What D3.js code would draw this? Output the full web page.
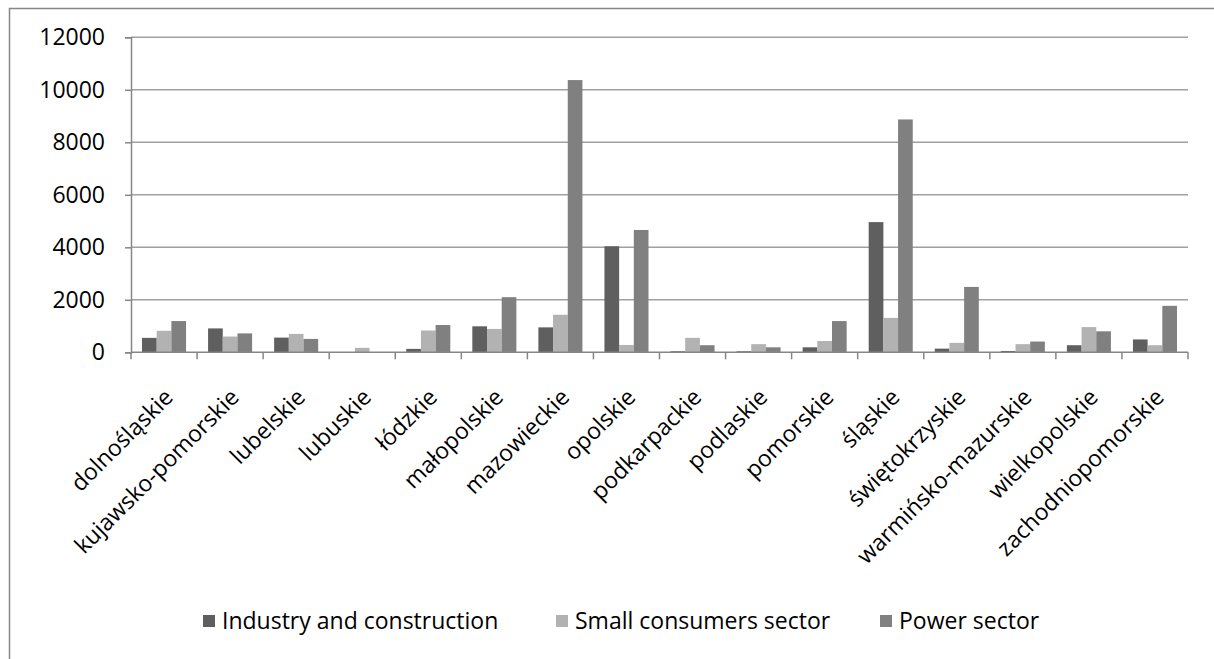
<!DOCTYPE html>
<html>
<head>
<meta charset="utf-8">
<script src="https://cdn.jsdelivr.net/npm/d3@7"></script>
<style>
  body { margin: 0; background: #fff; }
  svg { display: block; font-family: "Open Sans", "Noto Sans", sans-serif; }
</style>
</head>
<body>
<svg id="chart" width="1214" height="659"></svg>
<script>
// regions (voivodeships)
const regions = ['dolnośląskie', 'kujawsko-pomorskie', 'lubelskie', 'lubuskie', 'łódzkie',
  'małopolskie', 'mazowieckie', 'opolskie', 'podkarpackie', 'podlaskie', 'pomorskie',
  'śląskie', 'świętokrzyskie', 'warmińsko-mazurskie', 'wielkopolskie', 'zachodniopomorskie'];

const seriesNames = ['Industry and construction', 'Small consumers sector', 'Power sector'];

const industry = [550, 910, 560, 0, 130, 990, 950, 4040, 40, 40, 190, 4960, 140, 50, 270, 490];
const smallConsumers = [820, 600, 700, 170, 830, 890, 1430, 280, 550, 310, 430, 1310, 360, 310, 960, 270];
const power = [1190, 720, 510, 0, 1040, 2100, 10370, 4660, 270, 190, 1190, 8870, 2490, 410, 800, 1770];

const yTicks = [0, 2000, 4000, 6000, 8000, 10000, 12000];
const colors = ['#5f5f5f', '#b2b2b2', '#808080'];
const fontSize = 23;

const svg = d3.select('#chart');

// outer chart frame (cut off at right/bottom like the screenshot)
svg.append('rect')
  .attr('x', 9.5).attr('y', 8.5)
  .attr('width', 1300).attr('height', 800)
  .attr('fill', 'none')
  .attr('stroke', '#868686')
  .attr('stroke-width', 1.5);

const plot = { left: 131, right: 1188, top: 37.3, bottom: 352.3 };

const x = d3.scaleBand()
  .domain(regions)
  .range([plot.left, plot.right])
  .paddingInner(0)
  .paddingOuter(0);

// gap width 150% -> bars take 3/4.5 of each category
const inner = d3.scaleBand()
  .domain(d3.range(3))
  .range([x.bandwidth() * 0.75 / 4.5, x.bandwidth() - x.bandwidth() * 0.75 / 4.5]);

const y = d3.scaleLinear()
  .domain([0, 12000])
  .range([plot.bottom, plot.top]);

// gridlines
svg.append('g')
  .selectAll('line')
  .data(yTicks.filter(d => d > 0))
  .join('line')
  .attr('x1', plot.left).attr('x2', plot.right)
  .attr('y1', d => y(d)).attr('y2', d => y(d))
  .attr('stroke', '#a0a0a0')
  .attr('stroke-width', 1.5);

// bars
const data = [industry, smallConsumers, power];
const groups = svg.append('g')
  .selectAll('g')
  .data(regions)
  .join('g')
  .attr('transform', d => `translate(${x(d)},0)`);

groups.selectAll('rect')
  .data((d, i) => data.map((s, k) => ({ k, v: s[i] })))
  .join('rect')
  .attr('x', d => inner(d.k))
  .attr('width', inner.bandwidth())
  .attr('y', d => y(d.v))
  .attr('height', d => y(0) - y(d.v))
  .attr('fill', d => colors[d.k]);

// y axis
const yAxis = svg.append('g')
  .attr('transform', `translate(${plot.left},0)`)
  .call(d3.axisLeft(y).tickValues(yTicks).tickSize(6).tickPadding(20).tickFormat(d3.format('d')));
yAxis.select('.domain').attr('stroke', '#868686').attr('stroke-width', 1.5);
yAxis.selectAll('.tick line').attr('stroke', '#868686').attr('stroke-width', 1.5);
yAxis.selectAll('.tick text')
  .attr('font-size', fontSize)
  .attr('fill', '#000')
  .attr('font-family', '"Open Sans", sans-serif');

// x axis
const xAxis = svg.append('g')
  .attr('transform', `translate(0,${plot.bottom})`);
xAxis.append('line')
  .attr('x1', plot.left).attr('x2', plot.right)
  .attr('stroke', '#868686').attr('stroke-width', 1.5);
xAxis.selectAll('line.tick')
  .data(d3.range(regions.length + 1))
  .join('line')
  .attr('class', 'tick')
  .attr('x1', i => plot.left + i * x.step())
  .attr('x2', i => plot.left + i * x.step())
  .attr('y1', 0).attr('y2', 7)
  .attr('stroke', '#868686').attr('stroke-width', 1.5);

xAxis.selectAll('text')
  .data(regions)
  .join('text')
  .attr('transform', d => `translate(${x(d) + x.bandwidth() / 2 - 1},${35}) rotate(-45)`)
  .attr('text-anchor', 'end')
  .attr('dy', '0.7em')
  .attr('font-size', fontSize)
  .attr('fill', '#000')
  .text(d => d);

// legend
const legendX = [203, 556, 880];
const legend = svg.append('g')
  .selectAll('g')
  .data(seriesNames)
  .join('g')
  .attr('transform', (d, i) => `translate(${legendX[i]},621)`);
legend.append('rect')
  .attr('x', 0).attr('y', -6)
  .attr('width', 12).attr('height', 12)
  .attr('fill', (d, i) => colors[i]);
legend.append('text')
  .attr('x', 19)
  .attr('dy', '0.35em')
  .attr('font-size', fontSize)
  .attr('fill', '#000')
  .text(d => d);
</script>
</body>
</html>
